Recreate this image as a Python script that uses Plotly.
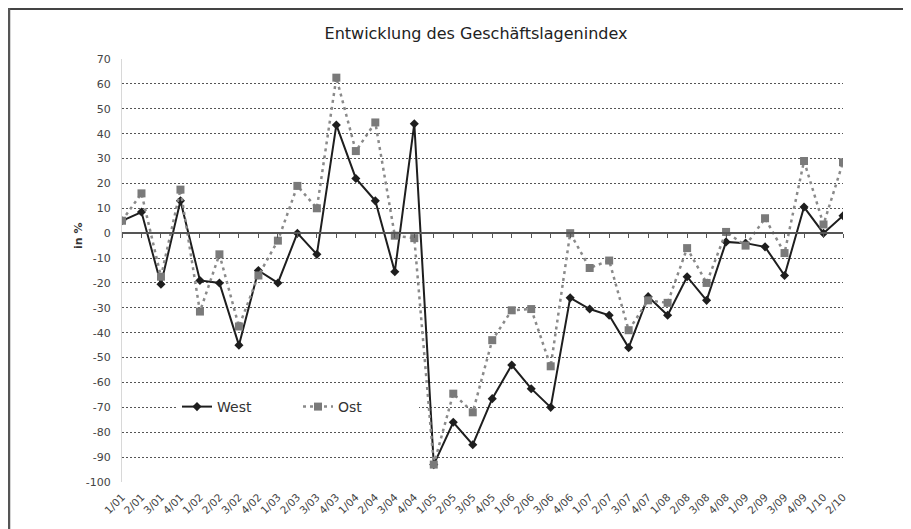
import plotly.graph_objects as go

quarters = ["1/01", "2/01", "3/01", "4/01", "1/02", "2/02", "3/02", "4/02",
            "1/03", "2/03", "3/03", "4/03", "1/04", "2/04", "3/04", "4/04",
            "1/05", "2/05", "3/05", "4/05", "1/06", "2/06", "3/06", "4/06",
            "1/07", "2/07", "3/07", "4/07", "1/08", "2/08", "3/08", "4/08",
            "1/09", "2/09", "3/09", "4/09", "1/10", "2/10"]

west = [5, 8.5, -20.5, 13, -19, -20, -45, -15,
        -20, 0, -8.5, 43.5, 22, 13, -15.5, 44,
        -93, -76, -85, -66.5, -53, -62.5, -70, -26,
        -30.5, -33, -46, -25.5, -33, -17.5, -27, -3.5,
        -4, -5.5, -17, 10.5, 0, 7]

ost = [5, 16, -17.5, 17.5, -31.5, -8.5, -37.5, -17,
       -3, 19, 10, 62.5, 33, 44.5, -1, -2,
       -93, -64.5, -72, -43, -31, -30.5, -53.5, 0,
       -14, -11, -39, -27, -28, -6, -20, 0.5,
       -5, 6, -8, 29, 3.5, 28.5]

y_ticks = [-100, -90, -80, -70, -60, -50, -40, -30, -20, -10, 0,
           10, 20, 30, 40, 50, 60, 70]
y_tick_labels = ["-100", "-90", "-80", "-70", "-60", "-50", "-40", "-30", "-20",
                 "-10", "0", "10", "20", "30", "40", "50", "60", "70"]

title_text = "Entwicklung des Geschäftslagenindex"
y_title = "in %"

idx = list(range(len(quarters)))

# the page body has an 8px margin; the figure is sized to fit the window
OFF = 8
W, H = 911 - OFF, 529 - OFF
L, R, T, B = 122 - OFF, 68, 59 - OFF, 47
pw, ph = W - L - R, H - T - B


def px_x(p):
    return (p - OFF - L) / pw


def px_y(p):
    return (H - B - (p - OFF)) / ph


font_family = "DejaVu Sans"

fig = go.Figure()

fig.add_trace(go.Scatter(
    x=idx, y=west, name="West", mode="lines+markers",
    line=dict(color="#1e1e1e", width=2),
    marker=dict(symbol="diamond", size=7, color="#1e1e1e"),
))
fig.add_trace(go.Scatter(
    x=idx, y=ost, name="Ost", mode="lines+markers",
    line=dict(color="#8a8a8a", width=2.5, dash="3px,4px"),
    marker=dict(symbol="square", size=8, color="#7a7a7a"),
))

fig.update_layout(
    width=W, height=H,
    margin=dict(l=L, r=R, t=T, b=B),
    paper_bgcolor="white", plot_bgcolor="white",
    font=dict(family=font_family, color="#444"),
    title=dict(text=title_text, x=(476 - OFF) / W, xanchor="center",
               y=1 - (33 - OFF) / H, yanchor="middle", yref="container",
               font=dict(family=font_family, size=16, color="#222")),
    showlegend=True,
    legend=dict(orientation="h", x=px_x(177), y=px_y(407),
                xanchor="left", yanchor="middle",
                bgcolor="white", borderwidth=0,
                entrywidth=76, entrywidthmode="pixels",
                font=dict(family=font_family, size=14, color="#333")),
    xaxis=dict(range=[0, len(quarters) - 1], tickmode="array",
               tickvals=idx, ticktext=quarters, tickangle=-45,
               showgrid=False, showline=False, zeroline=False,
               ticks="", ticklabelstandoff=6,
               tickfont=dict(family=font_family, size=10.5, color="#444"),
               automargin=False),
    xaxis2=dict(range=[0, len(quarters) - 1], overlaying="x", anchor="free",
                position=(0 - y_ticks[0]) / (y_ticks[-1] - y_ticks[0]),
                tickmode="array", tickvals=idx, showticklabels=False,
                ticks="outside", ticklen=4, tickcolor="#555", tickwidth=1,
                showline=True, linecolor="#555", linewidth=2,
                showgrid=False, zeroline=False, automargin=False),
    yaxis=dict(range=[y_ticks[0], y_ticks[-1]], tickmode="array",
               tickvals=y_ticks, ticktext=y_tick_labels,
               showgrid=True, gridcolor="#555", gridwidth=1.3, griddash="2px,2px",
               zeroline=False, showline=True, linecolor="#d8d8d8", linewidth=1,
               ticks="", ticklabelstandoff=8,
               tickfont=dict(family=font_family, size=11, color="#444"),
               automargin=False),
)

# invisible helper trace so the zero-line axis is drawn
fig.add_trace(go.Scatter(x=[idx[0]], y=[0], xaxis="x2", mode="markers",
                         marker=dict(opacity=0), showlegend=False, hoverinfo="skip"))

fig.add_annotation(text="<b>" + y_title + "</b>", xref="paper", yref="paper",
                   x=px_x(78), y=px_y(236), xanchor="center", yanchor="middle",
                   textangle=-90, showarrow=False,
                   font=dict(family=font_family, size=11, color="#333"))

# frame of the scanned figure (drawn at the figure edge)
fig.add_shape(type="line", xref="paper", yref="paper",
              x0=px_x(OFF), x1=px_x(W + OFF + 5), y0=px_y(OFF + 1), y1=px_y(OFF + 1),
              line=dict(color="#444", width=2))
fig.add_shape(type="line", xref="paper", yref="paper",
              x0=px_x(OFF + 1), x1=px_x(OFF + 1), y0=px_y(OFF), y1=px_y(H + OFF + 5),
              line=dict(color="#555", width=2.5))

fig.write_html("out.html")
